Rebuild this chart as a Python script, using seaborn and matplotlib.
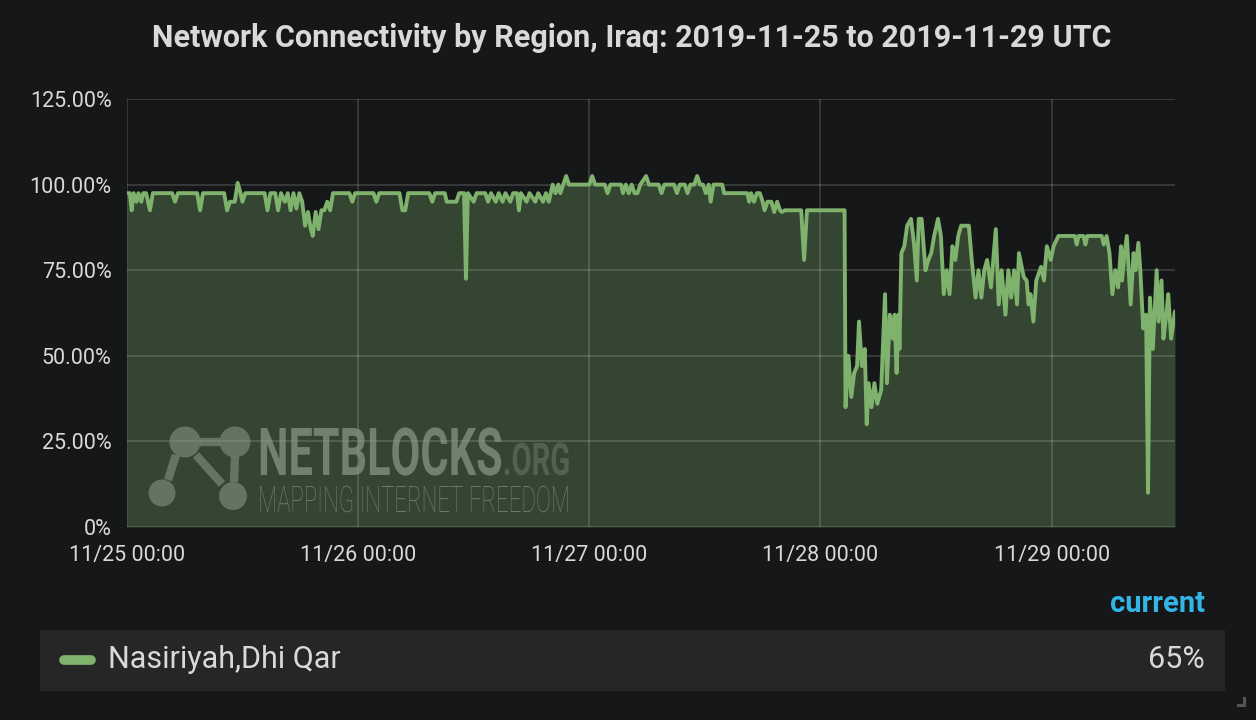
import matplotlib
matplotlib.use("Agg")
import matplotlib.pyplot as plt
import matplotlib.dates as mdates
import matplotlib.patheffects as pe
from matplotlib.patches import Circle, Rectangle
from matplotlib.transforms import Affine2D
import seaborn as sns
import pandas as pd

# hours since 2019-11-25 00:00 UTC
hours = [
    0, 0.3, 0.5, 0.7, 1.0, 1.2, 1.5, 1.7, 2.0, 2.4, 2.7, 4.7, 5.0, 5.3, 7.3, 7.6, 7.9,
    10.1, 10.4, 10.7, 11.2, 11.5, 11.8, 12.0, 12.3, 14.3, 14.6, 14.9, 15.4, 15.7, 16.0,
    16.4, 16.7, 17.0, 17.3, 17.6, 17.9, 18.2, 18.5, 18.8, 19.1, 19.3, 19.6, 19.9, 20.2,
    20.5, 20.8, 21.1, 21.4, 23.1, 23.4, 23.7,
    25.6, 25.9, 26.2, 28.3, 28.6, 28.9, 29.2, 31.4, 31.7, 32.0, 33.0, 33.2, 34.2, 34.5,
    35.0, 35.2, 35.4, 36.0, 36.3, 37.2, 37.5, 37.8, 38.3, 38.6, 39.0, 39.3, 39.8, 40.1,
    40.5, 40.7, 40.9, 41.5, 41.8, 42.4, 42.7, 43.2, 43.5, 43.8, 44.2, 44.5, 44.8, 45.0,
    45.3, 45.6, 45.9,
    48.0, 48.3, 48.6, 49.6, 49.9, 50.2, 51.3, 51.5, 51.8, 52.1, 52.4, 52.7, 53.0, 53.3,
    53.9, 54.2, 55.2, 55.5, 55.8, 56.8, 57.1, 57.4, 57.9, 58.2, 58.5, 58.9, 59.2, 59.5,
    59.8, 60.1, 60.4, 60.6, 60.9, 61.8, 62.0, 64.4, 64.6, 64.8, 65.1, 65.4, 65.7, 66.0,
    66.2, 66.5, 66.9, 67.2, 67.5, 67.8, 68.0, 68.3, 70.0, 70.3, 70.6, 74.3,
    74.5, 74.6, 74.9, 75.2, 75.5, 75.8, 76.0, 76.3, 76.6, 76.8, 77.0, 77.3, 77.6, 77.9,
    78.3, 78.7, 78.9, 79.2, 79.5, 79.7, 79.9, 80.1, 80.2, 80.4, 80.7, 81.0, 81.4, 81.7,
    82.0, 82.2, 82.5, 82.9, 83.2, 83.5, 83.8, 84.2, 84.5, 84.8, 85.1, 85.4, 85.7, 86.0,
    86.3, 86.6, 87.4, 87.7, 88.1, 88.4, 88.7, 89.0, 89.3, 89.7, 90.2, 90.5, 90.8, 91.2,
    91.5, 91.8, 92.1, 92.4, 92.6, 93.1, 93.4, 93.6, 93.8, 94.1, 94.4, 94.9, 95.2, 95.5,
    95.9, 96.2,
    96.7, 98.4, 98.6, 98.8, 99.3, 99.5, 99.7, 101.2, 101.4, 101.7, 102.0, 102.3, 102.6,
    102.9, 103.2, 103.3, 103.5, 103.8, 104.0, 104.2, 104.5, 104.7, 105.0, 105.2, 105.5,
    105.8, 106.0, 106.2, 106.5, 106.9, 107.1, 107.4, 107.6, 107.9, 108.1, 108.4, 108.8,
]
connectivity = [
    97.5, 97.5, 92.5, 97.5, 95, 97.5, 95, 97.5, 97.5, 92.5, 97.5, 97.5, 95, 97.5, 97.5, 92.5, 97.5,
    97.5, 92.5, 95, 95, 100.5, 97.5, 95, 97.5, 97.5, 92.5, 97.5, 97.5, 92.5, 97.5,
    95, 97.5, 92.5, 97.5, 93, 97.5, 95, 88, 92, 87, 85, 92, 87, 92.5,
    92.5, 95, 92.5, 97.5, 97.5, 95, 97.5,
    97.5, 95, 97.5, 97.5, 92.5, 92.5, 97.5, 97.5, 95, 97.5, 97.5, 95, 95, 97.5,
    97.5, 72.5, 97.5, 95, 97.5, 97.5, 95, 97.5, 95, 97.5, 95, 97.5, 95, 97.5,
    97.5, 92.5, 97.5, 95, 97.5, 95, 97.5, 95, 97.5, 95, 100, 97.5, 100, 97.5,
    100, 102.5, 100,
    100, 102.5, 100, 100, 97.5, 100, 100, 97.5, 100, 97.5, 100, 97.5, 97.5, 100,
    102.5, 100, 100, 97.5, 100, 100, 97.5, 100, 100, 97.5, 100, 100, 102.5, 100,
    100, 97.5, 100, 95, 100, 100, 97.5, 97.5, 95, 97.5, 95, 97.5, 97.5, 95,
    92.5, 95, 95, 92, 95, 92.5, 92, 92.5, 92.5, 78, 92.5, 92.5,
    92.5, 35, 50, 38, 45, 47, 60, 47, 52, 30, 42, 35, 42, 36,
    40, 68, 42, 62, 55, 62, 45, 62, 52, 80, 82, 88, 90, 83,
    72, 90, 90, 75, 78, 80, 85, 90, 85, 68, 75, 68, 82, 78,
    85, 88, 88, 78, 67, 75, 67, 75, 78, 70, 87, 65, 75, 62,
    75, 67, 75, 65, 80, 73, 72, 65, 68, 60, 72, 76, 72, 82,
    78, 82,
    85, 85, 82.5, 85, 85, 82.5, 85, 85, 82.5, 85, 80, 68, 75,
    70, 82, 72, 78, 85, 75, 65, 80, 75, 83, 75, 58,
    62, 10, 67, 52, 75, 60, 72, 55, 62, 68, 55, 63,
]
region = "Nasiriyah,Dhi Qar"
current_value = "65%"
y_ticks = [0, 25, 50, 75, 100, 125]
y_tick_labels = ["0%", "25.00%", "50.00%", "75.00%", "100.00%", "125.00%"]

start = pd.Timestamp("2019-11-25 00:00")
df = pd.DataFrame({
    "time": start + pd.to_timedelta(hours, unit="h"),
    "value": connectivity,
})


class Stretch(pe.AbstractPathEffect):
    """stretch glyphs vertically from the baseline (condensed look for the watermark)"""

    def __init__(self, sy, y0):
        super().__init__()
        self.sy, self.y0 = sy, y0

    def draw_path(self, renderer, gc, tpath, affine, rgbFace=None):
        stretch = Affine2D().translate(0, -self.y0).scale(1, self.sy).translate(0, self.y0)
        renderer.draw_path(gc, tpath, affine + stretch, rgbFace)


sns.set_theme(style="dark")
plt.rcParams["font.family"] = ["Roboto", "DejaVu Sans"]

BG = "#161719"
TEXT = "#d8d9da"
LINE = "#7eb26d"

fig = plt.figure(figsize=(12.56, 7.2), dpi=100, facecolor=BG)
ax = fig.add_axes([0.101, 0.268, 0.8345, 0.5945])
ax.set_facecolor(BG)

ax.fill_between(df["time"], df["value"], 0, color="#344532", zorder=1, linewidth=0)
sns.lineplot(data=df, x="time", y="value", color=LINE, linewidth=2.8, ax=ax, zorder=5)

ax.set_xlim(start, start + pd.Timedelta(hours=108.8))
ax.set_ylim(0, 125)
ax.set_yticks(y_ticks)
ax.set_yticklabels(y_tick_labels)
ax.xaxis.set_major_locator(mdates.DayLocator())
ax.xaxis.set_major_formatter(mdates.DateFormatter("%m/%d %H:%M"))
ax.tick_params(axis="both", colors=TEXT, labelsize=15.5, length=0)
ax.tick_params(axis="x", pad=13)
ax.tick_params(axis="y", pad=11)
ax.set_xlabel("")
ax.set_ylabel("")
ax.grid(True, color="white", alpha=0.17, linewidth=1.2, zorder=2)
ax.set_axisbelow(False)
for s in ax.spines.values():
    s.set_visible(False)

fig.text(0.503, 0.947, "Network Connectivity by Region, Iraq: 2019-11-25 to 2019-11-29 UTC",
         ha="center", va="center", color=TEXT, fontsize=22, fontweight="bold")

# overlay in pixel coordinates for the watermark and legend panel
ov = fig.add_axes([0, 0, 1, 1], facecolor="none")
ov.set_xlim(0, 1256)
ov.set_ylim(720, 0)
ov.axis("off")

wm = "#8d9b89"
for x0, y0, x1, y1 in [(200, 442, 220, 442), (176, 455, 168, 480), (196, 455, 222, 484), (235, 457, 234, 482)]:
    ov.plot([x0, x1], [y0, y1], color=wm, alpha=0.55, linewidth=6, solid_capstyle="butt")
for cx, cy, r in [(185, 442, 15.5), (235, 442, 15.5), (162, 493, 13.5), (233, 496, 14)]:
    ov.add_patch(Circle((cx, cy), r, color=wm, alpha=0.55, linewidth=0))

# text sized to the logo width, then stretched up to the logo's cap height
renderer = fig.canvas.get_renderer()
wm_texts = [
    ("NETBLOCKS", 258, 475, 244, 47, "bold", 0.7),
    (".ORG", 503, 475, 67, 32, "bold", 0.35),
    ("MAPPING INTERNET FREEDOM", 258, 512, 312, 26, "light", 0.65),
]
for label, tx, ty, width, cap, weight, alpha in wm_texts:
    t = ov.text(tx, ty, label, color=wm, alpha=alpha, fontsize=20,
                fontweight=weight, ha="left", va="baseline")
    size = 20 * width / t.get_window_extent(renderer).width
    t.set_fontsize(size)
    y0 = ov.transData.transform((tx, ty))[1]
    sy = cap / (0.711 * size * 100 / 72)
    t.set_path_effects([Stretch(sy, y0)])

# legend panel
ov.text(1205, 604, "current", color="#33b5e5", fontsize=21, fontweight="bold",
        ha="right", va="center")
ov.add_patch(Rectangle((40, 630), 1185, 61, facecolor="#262628", edgecolor="none"))
ov.plot([64, 91], [660, 660], color=LINE, linewidth=7, solid_capstyle="round")
ov.text(108, 660, region, color=TEXT, fontsize=22, ha="left", va="center")
ov.text(1205, 660, current_value, color=TEXT, fontsize=22, ha="right", va="center")
ov.add_patch(Rectangle((1243, 697), 3, 10, facecolor="#555558", edgecolor="none"))
ov.add_patch(Rectangle((1237, 704), 9, 3, facecolor="#555558", edgecolor="none"))

fig.savefig("out.png", dpi=100, facecolor=BG)
